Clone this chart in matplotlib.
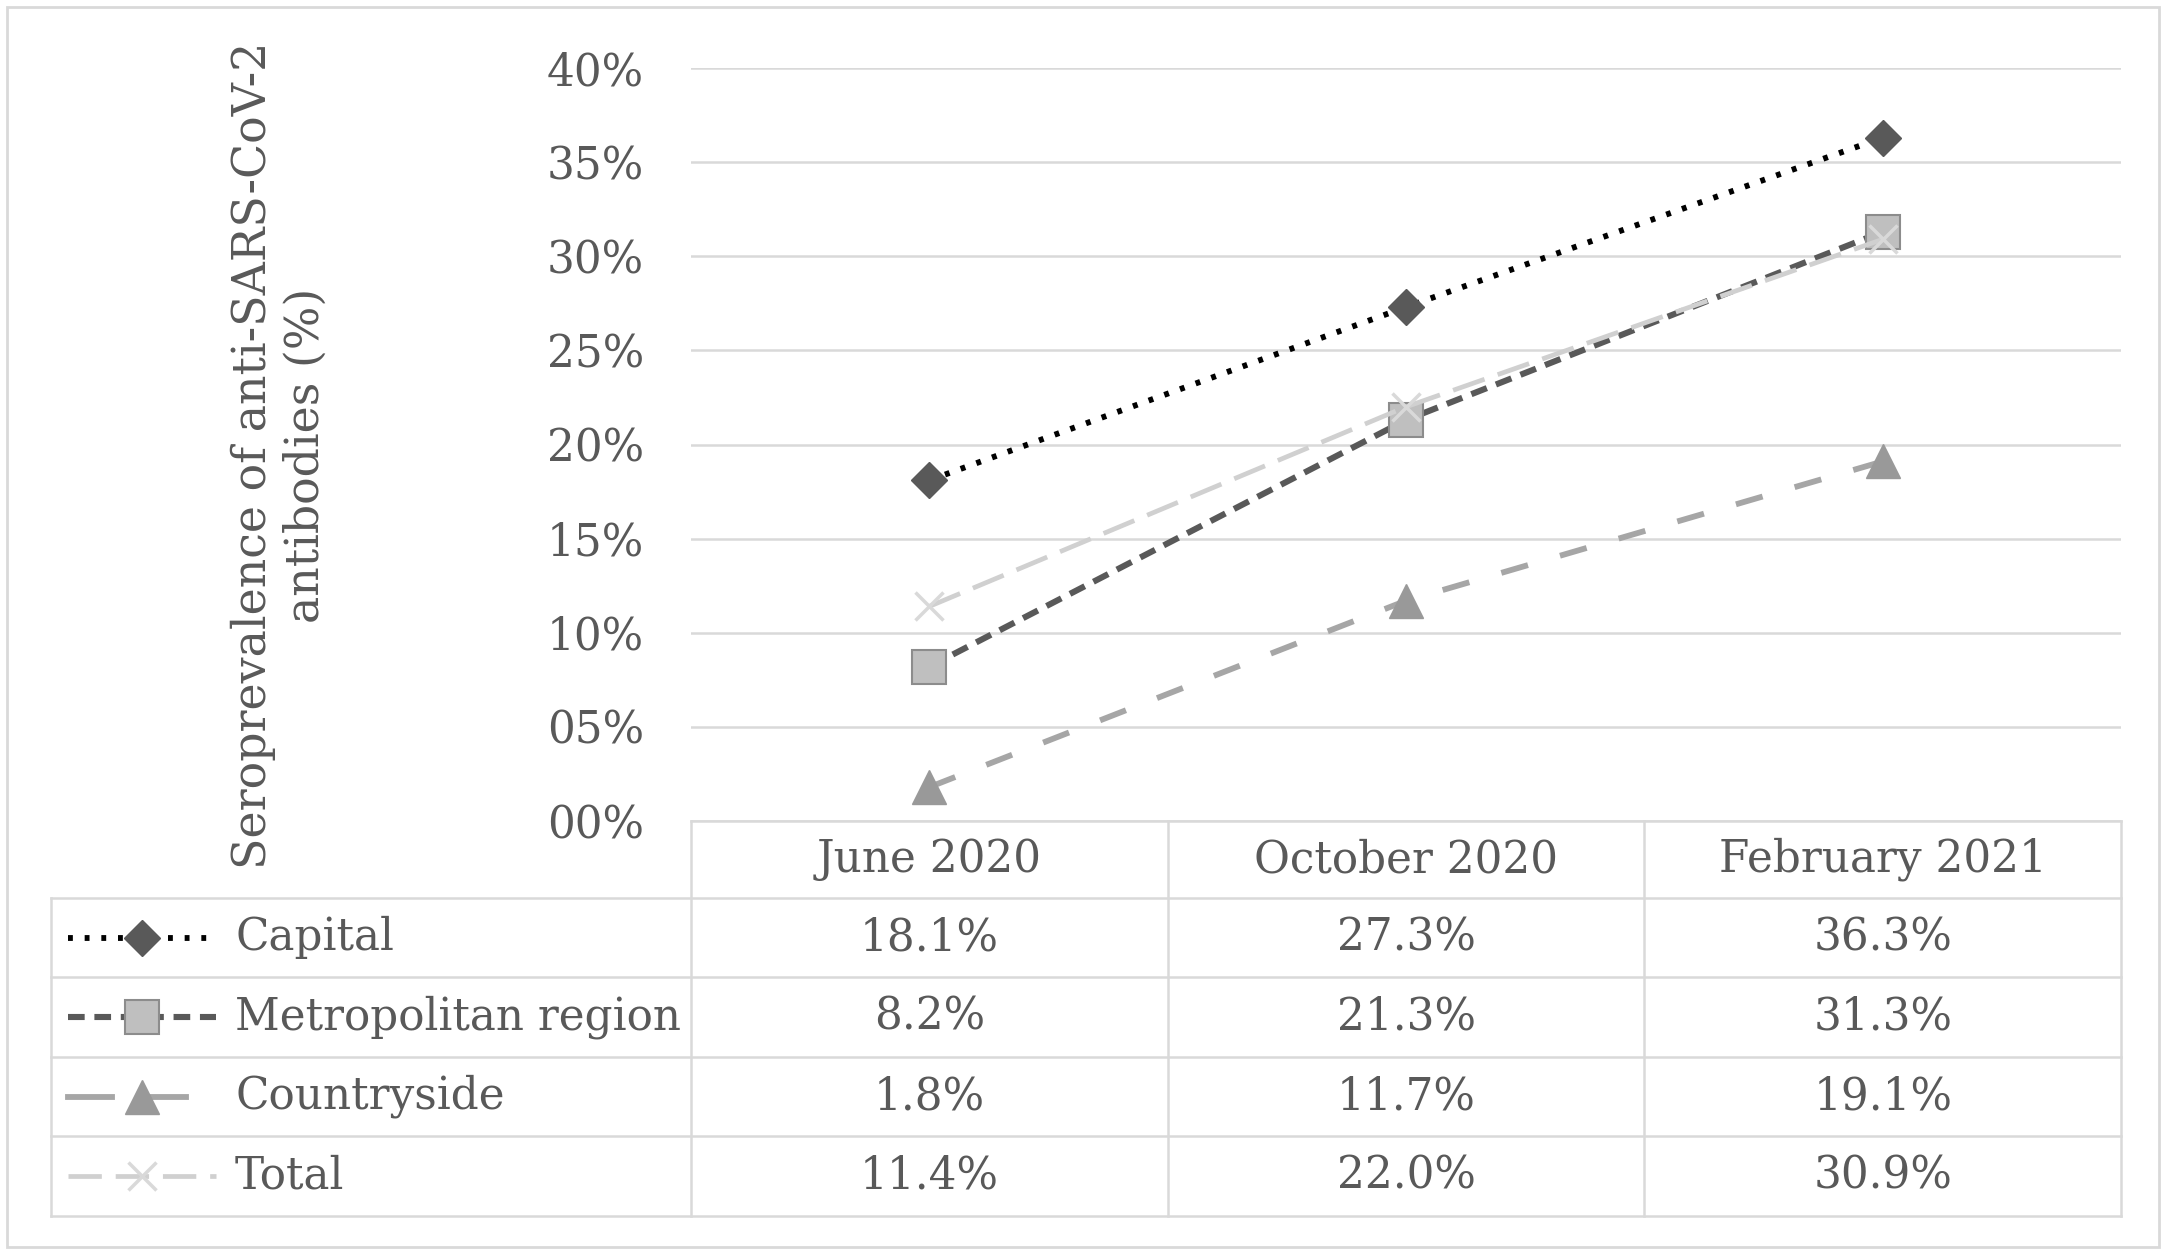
import matplotlib
matplotlib.use("Agg")
import matplotlib.pyplot as plt
from matplotlib.patches import Rectangle
from matplotlib.transforms import blended_transform_factory

# data
periods = ["June 2020", "October 2020", "February 2021"]
series_names = ["Capital", "Metropolitan region", "Countryside", "Total"]
capital = [18.1, 27.3, 36.3]
metropolitan = [8.2, 21.3, 31.3]
countryside = [1.8, 11.7, 19.1]
total = [11.4, 22.0, 30.9]
y_ticks = [0, 5, 10, 15, 20, 25, 30, 35, 40]
y_label = "Seroprevalence of anti-SARS-CoV-2\nantibodies (%)"

plt.rcParams['font.family'] = ['DejaVu Serif']
plt.rcParams['lines.scale_dashes'] = False

W, H = 2167, 1253
fig = plt.figure(figsize=(W / 100, H / 100), dpi=100)
grey_txt = '#595959'
grid_c = '#d9d9d9'
fs = 31.5

# pixel layout
plot_l, plot_r, plot_t, plot_b = 691, 2121, 68, 821
rows = [821, 898, 977, 1057, 1136, 1216]
leg_l = 51

ax = fig.add_axes([plot_l / W, 1 - plot_b / H, (plot_r - plot_l) / W, (plot_b - plot_t) / H])
tab = fig.add_axes([0, 0, 1, 1], facecolor='none')
tab.set_xlim(0, W)
tab.set_ylim(H, 0)
tab.axis('off')
ax.set_zorder(2)

styles = [
    dict(color='black', lw=4.2, ls=(0, (3.5, 8.5)), marker='D', ms=18,
         mfc='#595959', mec='#595959'),
    dict(color='#595959', lw=4.4, ls=(0, (12, 7)), marker='s', ms=25,
         mfc='#bfbfbf', mec='#8c8c8c', mew=1.5),
    dict(color='#a6a6a6', lw=4.2, ls=(0, (20, 24)), marker='^', ms=25,
         mfc='#999999', mec='#999999'),
    dict(color='#d0d0d0', lw=3.4, ls=(0, (24, 10)), marker='x', ms=20,
         mec='#d9d9d9', mew=2.5),
]
values = [capital, metropolitan, countryside, total]
xs = list(range(len(periods)))

for vals, st in zip(values, styles):
    ax.plot(xs, vals, **st, zorder=3)

ax.set_xlim(-0.5, len(periods) - 0.5)
ax.set_ylim(0, 40)
ax.set_yticks(y_ticks)
ax.set_yticklabels([f"{v:02d}%" for v in y_ticks], color=grey_txt, fontsize=fs)
ax.tick_params(axis='y', length=0, pad=34)
ax.set_xticks([])
ax.grid(axis='y', color=grid_c, lw=1.8)
ax.set_axisbelow(True)
for s in ax.spines.values():
    s.set_visible(False)
ax.patch.set_alpha(0)

# y label
tab.text(280, 455, y_label, rotation=90, ha='center', va='center',
         multialignment='center', fontsize=33, color=grey_txt, linespacing=1.2)

# table: x in category units, y in pixels
bt = blended_transform_factory(ax.transData, tab.transData)
lw_t = 1.8
for i in range(len(periods) + 1):
    tab.plot([i - 0.5, i - 0.5], [rows[0], rows[-1]], color=grid_c, lw=lw_t, transform=bt)
tab.plot([-0.5, len(periods) - 0.5], [rows[0], rows[0]], color=grid_c, lw=lw_t, transform=bt)
for y in rows[1:]:
    tab.plot([leg_l, plot_r], [y, y], color=grid_c, lw=lw_t)
tab.plot([leg_l, leg_l], [rows[1], rows[-1]], color=grid_c, lw=lw_t)

for i, p in enumerate(periods):
    tab.text(i, (rows[0] + rows[1]) / 2, p, ha='center', va='center',
             fontsize=fs, color=grey_txt, transform=bt)

for r, (name, vals, st) in enumerate(zip(series_names, values, styles)):
    yc = (rows[r + 1] + rows[r + 2]) / 2
    for i, v in enumerate(vals):
        tab.text(i, yc, f"{v:.1f}%", ha='center', va='center',
                 fontsize=fs, color=grey_txt, transform=bt)
    tab.text(235, yc, name, ha='left', va='center', fontsize=fs, color=grey_txt)
    if name == "Countryside":
        tab.plot([68, 112], [yc, yc], color=st['color'], lw=st['lw'])
        tab.plot([150, 186], [yc, yc], color=st['color'], lw=st['lw'])
    else:
        tab.plot([68, 216], [yc, yc], color=st['color'], lw=st['lw'], ls=st['ls'])
    mk = {k: st[k] for k in ('marker', 'ms', 'mfc', 'mec', 'mew') if k in st}
    tab.plot([142], [yc], ls='none', **mk)

# outer frame
tab.add_patch(Rectangle((7, 7), 2152, 1240, fill=False, ec=grid_c, lw=2))

fig.savefig("out.png", dpi=100)
